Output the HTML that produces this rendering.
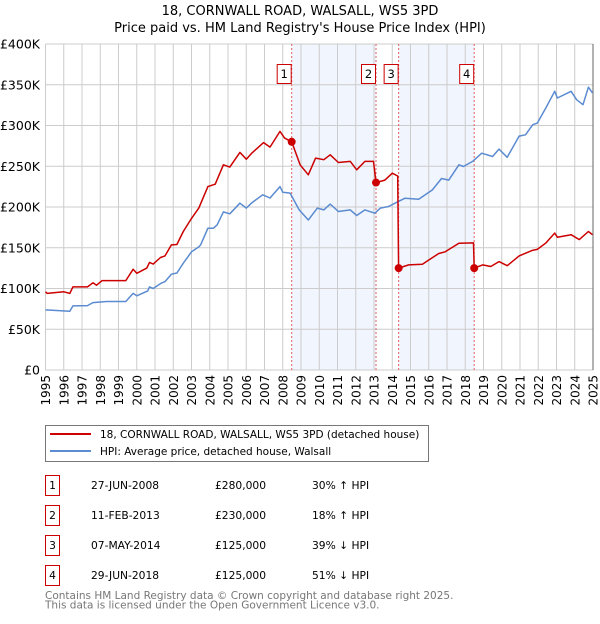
<!DOCTYPE html>
<html><head><meta charset="utf-8"><style>
body{margin:0;background:#fff;font-family:"DejaVu Sans","Liberation Sans",sans-serif;}
svg text{font-family:"DejaVu Sans","Liberation Sans",sans-serif;}
</style></head><body>
<svg id="chart" width="600" height="620" xmlns="http://www.w3.org/2000/svg">
<text x="300" y="15" text-anchor="middle" font-size="13" fill="#000">18, CORNWALL ROAD, WALSALL, WS5 3PD</text>
<text x="300" y="32" text-anchor="middle" font-size="13" fill="#000">Price paid vs. HM Land Registry's House Price Index (HPI)</text>
<g id="plot"></g>
<g>
<rect x="45.5" y="425.5" width="383" height="36" fill="#fff" stroke="#777"/>
<line x1="50" y1="434" x2="91" y2="434" stroke="#cc0000" stroke-width="2"/>
<text x="100" y="438" font-size="10.5">18, CORNWALL ROAD, WALSALL, WS5 3PD (detached house)</text>
<line x1="50" y1="451" x2="91" y2="451" stroke="#5b8bd0" stroke-width="2"/>
<text x="100" y="455" font-size="10.5">HPI: Average price, detached house, Walsall</text>
</g>
<g id="table" font-size="10.7"></g>
<text x="45" y="599" font-size="10.5" fill="#777">Contains HM Land Registry data © Crown copyright and database right 2025.</text>
<text x="45" y="608.5" font-size="10.5" fill="#777">This data is licensed under the Open Government Licence v3.0.</text>
</svg>
<script>
const hpiYears=[1995,1996.33,1996.5,1997.3,1997.6,1998.35,1999.4,1999.8,2000,2000.6,2000.7,2000.9,2001.3,2001.55,2001.9,2002.2,2002.55,2003,2003.4,2003.5,2003.9,2004.2,2004.4,2004.75,2005.1,2005.65,2006,2006.3,2006.9,2007.3,2007.85,2008,2008.4,2008.9,2009.4,2009.9,2010.25,2010.6,2011.05,2011.7,2012.05,2012.5,2013.05,2013.35,2013.8,2014.15,2014.7,2015.45,2016.2,2016.7,2017.1,2017.65,2017.9,2018.4,2018.9,2019.5,2019.85,2020.3,2020.95,2021.3,2021.7,2021.95,2022.4,2022.9,2023.05,2023.8,2024.1,2024.45,2024.75,2024.97];
const hpiValues=[73.7,72,78.6,79,82.7,84,84,94,91,97,102,100,106,108.5,117.5,119,131,145,151,153.5,174,174,178,194,191.6,204.7,198.6,205,215,211,225,218,217,196.5,184,198.6,196.5,203.5,194.5,196.5,189.6,196.5,192.4,198.6,200.6,204.7,210.8,209.6,221,235,233,251.8,249.7,256,266,262,271,261,287,288.6,301,303,321,342,333.7,342,331.6,325.5,347,340];
const priceYears=[1995,1995.1,1996,1996.33,1996.5,1997.3,1997.6,1997.8,1998.1,1999.4,1999.8,2000,2000.55,2000.7,2000.9,2001.3,2001.55,2001.9,2002.2,2002.55,2003,2003.4,2003.9,2004.3,2004.75,2005.1,2005.65,2006,2006.3,2006.95,2007.3,2007.85,2008.1,2008.49,2008.95,2009.4,2009.8,2010.25,2010.6,2011.05,2011.7,2012.05,2012.5,2012.97,2013.11,2013.6,2014.0,2014.3,2014.35,2014.9,2015.65,2016,2016.55,2016.9,2017.65,2018.45,2018.49,2018.95,2019.4,2019.85,2020.3,2020.95,2021.7,2021.95,2022.4,2022.9,2023.05,2023.8,2024.25,2024.75,2024.97];
const priceValues=[96,94,96,94,102,102,107,104,109.7,109.7,123.6,118.7,125,132,130,138,140,153.5,154,170,186,198.6,225,228,251.8,249,267,258.7,266,279,273.5,292.7,284.5,280,251.8,239.5,260,258,264,254.6,256,245.6,256,256,230,233,241.5,238,125,129,129.8,135,143,145,155.6,156,125,129,127,133,128,140,147,148,155.6,168,163,166,160,170,166];
const saleLabels=["1","2","3","4"];
const saleYears=[2008.49,2013.11,2014.35,2018.49];
const saleValues=[280,230,125,125];
const saleDates=["27-JUN-2008","11-FEB-2013","07-MAY-2014","29-JUN-2018"];
const salePrices=["£280,000","£230,000","£125,000","£125,000"];
const saleHpi=["30% ↑ HPI","18% ↑ HPI","39% ↓ HPI","51% ↓ HPI"];
const yTicks=[0,50,100,150,200,250,300,350,400];
const yTickLabels=["£0","£50K","£100K","£150K","£200K","£250K","£300K","£350K","£400K"];
const xTicks=[1995,1996,1997,1998,1999,2000,2001,2002,2003,2004,2005,2006,2007,2008,2009,2010,2011,2012,2013,2014,2015,2016,2017,2018,2019,2020,2021,2022,2023,2024,2025];

const X0=45.5,X1=593,Y0=370,Y1=44;
const xs=y=>X0+(y-1995)/30*(X1-X0);
const ys=v=>Y0-v/400*(Y0-Y1);
const NS="http://www.w3.org/2000/svg";
const plot=document.getElementById('plot');
function mk(tag,attrs,parent){const e=document.createElementNS(NS,tag);for(const k in attrs)e.setAttribute(k,attrs[k]);(parent||plot).appendChild(e);return e;}
for(const [a,b] of [[0,1],[2,3]]){
 const r=mk('rect',{x:xs(saleYears[a]),y:Y1,width:xs(saleYears[b])-xs(saleYears[a]),height:Y0-Y1,fill:'#eef3fd',opacity:0.8});
 
 
}
xTicks.forEach((t,i)=>{
 const l=mk('line',{x1:xs(t),x2:xs(t),y1:Y1,y2:Y0,stroke:'#cccccc','stroke-width':1});
 
 
 const tx=mk('text',{transform:`translate(${xs(t)+4.5},${Y0+5}) rotate(-90)`,'text-anchor':'end','font-size':12,fill:'#000'});
 tx.textContent=String(t);
 
 
});
yTicks.forEach((t,i)=>{
 const l=mk('line',{x1:X0,x2:X1,y1:ys(t),y2:ys(t),stroke:'#cccccc','stroke-width':1});
 
 
 const tx=mk('text',{x:40,y:ys(t)+4.5,'text-anchor':'end','font-size':12.5,fill:'#000'});
 tx.textContent=yTickLabels[i];
 
 
});
const rb=mk('line',{x1:X1,x2:X1,y1:Y1,y2:Y0,stroke:'#666','stroke-width':1});


saleYears.forEach((y,i)=>{
 const l=mk('line',{x1:xs(y),x2:xs(y),y1:Y1,y2:Y0,stroke:'#e06060','stroke-width':1,'stroke-dasharray':'2,2'});
 
 
 const g=mk('g',{});
 
 
 mk('rect',{x:xs(y)-14.5,y:64.5,width:14,height:19,fill:'#fff',stroke:'#cc0000'},g);
 const t=mk('text',{x:xs(y)-7.5,y:78,'text-anchor':'middle','font-size':11.5},g);
 t.textContent=saleLabels[i];
});
function line(xa,va,color,name){
 const d=xa.map((x,i)=>(i?'L':'M')+xs(x).toFixed(1)+','+ys(va[i]).toFixed(1)).join('');
 const p=mk('path',{d,fill:'none',stroke:color,'stroke-width':1.5,'stroke-linejoin':'round'});
 
 
}
line(hpiYears,hpiValues,'#5b8bd0','hpi-line');
line(priceYears,priceValues,'#cc0000','price-paid-line');
saleYears.forEach((y,i)=>{
 const c=mk('circle',{cx:xs(y),cy:ys(saleValues[i]),r:4,fill:'#cc0000'});
 
 
});
const tb=document.getElementById('table');
saleLabels.forEach((s,i)=>{
 const y0=475+i*30;
 const g=mk('g',{},tb);
 
 
 mk('rect',{x:45.5,y:y0+0.5,width:14,height:20,fill:'#fff',stroke:'#cc0000'},g);
 const cells=[[s,52.5,'middle'],[saleDates[i],91,'start'],[salePrices[i],215,'start'],[saleHpi[i],312,'start']];
 cells.forEach(c=>{const t=mk('text',{x:c[1],y:y0+14,'text-anchor':c[2]},g);t.textContent=c[0];});
});
</script>
</body></html>
